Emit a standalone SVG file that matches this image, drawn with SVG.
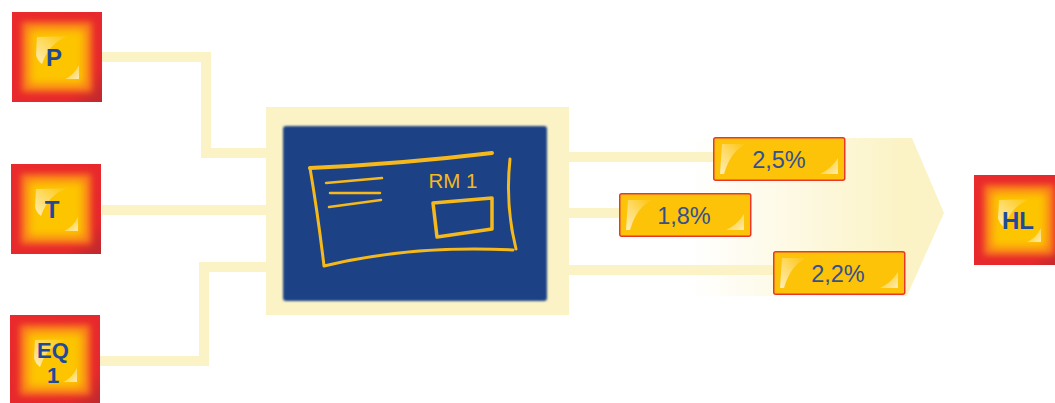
<svg xmlns="http://www.w3.org/2000/svg" xmlns:xlink="http://www.w3.org/1999/xlink" width="1055" height="403" viewBox="0 0 1055 403">
<style>
.conn{fill:none;stroke:#fbf3c6;stroke-width:10;stroke-linejoin:miter}
.ltr{font-family:"Liberation Sans",Arial,sans-serif;font-weight:bold;font-size:24px;fill:#1f4a9a;text-anchor:middle}
.pct{font-family:"Liberation Sans",Arial,sans-serif;font-size:23.5px;fill:#34508f;text-anchor:middle}
.chalk{fill:none;stroke:#f5b91c;stroke-linecap:round;stroke-linejoin:round}
</style>
<defs>
<linearGradient id="arrowG" gradientUnits="userSpaceOnUse" x1="690" y1="0" x2="900" y2="0">
<stop offset="0" stop-color="#fbf3c6" stop-opacity="0"/><stop offset="1" stop-color="#fbf3c6"/>
</linearGradient>
<linearGradient id="redG" x1="0" y1="0" x2="1" y2="1">
<stop offset="0" stop-color="#ea2a2c"/><stop offset=".8" stop-color="#e6282c"/><stop offset="1" stop-color="#b92a2e"/>
</linearGradient>
<linearGradient id="hiA" x1="0" y1="1" x2="1" y2="0">
<stop offset="0" stop-color="#fff6d8" stop-opacity=".85"/><stop offset=".45" stop-color="#fff0c0" stop-opacity=".55"/><stop offset="1" stop-color="#fff0c0" stop-opacity="0"/>
</linearGradient>
<linearGradient id="hiB" x1="1" y1="1" x2="0" y2="0">
<stop offset="0" stop-color="#fff3cf" stop-opacity=".85"/><stop offset="1" stop-color="#fff3cf" stop-opacity="0"/>
</linearGradient>
<filter id="b3" x="-30%" y="-30%" width="160%" height="160%"><feGaussianBlur stdDeviation="3"/></filter>
<filter id="b5" x="-30%" y="-30%" width="160%" height="160%"><feGaussianBlur stdDeviation="4"/></filter>
<filter id="b1" x="-5%" y="-5%" width="110%" height="110%"><feGaussianBlur stdDeviation="1.3"/></filter>
<filter id="bh" x="-20%" y="-20%" width="140%" height="140%"><feGaussianBlur stdDeviation=".7"/></filter>
<g id="sq">
<rect width="90" height="90" fill="url(#redG)"/>
<rect x="10" y="10" width="70" height="70" fill="#f9781a" filter="url(#b3)"/>
<rect x="17" y="17" width="56" height="56" fill="#fdc400" filter="url(#b5)"/>
<path d="M25 25L58 24Q38 29 30 52Q25 48 24 43Z" fill="url(#hiA)" filter="url(#bh)"/>
<path d="M67 53L67 67L53 67Q62 63 67 53Z" fill="url(#hiB)" filter="url(#bh)"/>
</g>
<g id="lab">
<rect x=".75" y=".75" width="131" height="42.5" rx="2" fill="#fdc308" stroke="#e8382a" stroke-width="1.5"/>
<path d="M9 7L34 7Q18 13 11 37L7 37Z" fill="url(#hiA)" filter="url(#bh)"/>
<path d="M125 21L125 37L107 37Q118 32 125 21Z" fill="url(#hiB)" filter="url(#bh)"/>
</g>
</defs>
<rect width="1055" height="403" fill="#ffffff"/>
<path id="arrow" d="M690 138L912 138L944 213L907 296L690 296Z" fill="url(#arrowG)"/>
<g id="connectors">
<path class="conn" d="M102 57H206V153H266"/>
<path class="conn" d="M102 210H266"/>
<path class="conn" d="M100 361H204V267H266"/>
<path class="conn" d="M568 157H714"/>
<path class="conn" d="M568 213H620"/>
<path class="conn" d="M568 270H774"/>
</g>
<g id="node-rm1">
<rect x="266" y="107" width="303" height="208" fill="#fbf3c6"/>
<rect x="283" y="126" width="264" height="175" rx="3" fill="#1c4285" filter="url(#b1)"/>
<path class="chalk" stroke-width="4" d="M310 168Q400 164 492 153"/>
<path class="chalk" stroke-width="3" d="M310 168Q318 215 324 266Q410 245 513 250M510 159Q505 205 516 249"/>
<path class="chalk" stroke-width="2.5" d="M326 183L382 178M330 193L380 193M329 207L381 200"/>
<path class="chalk" stroke-width="3.5" d="M433 203L492 198L492 229L437 237Z"/>
<text x="453" y="188" font-family="'Liberation Sans',Arial,sans-serif" font-size="20.5" fill="#f5b91c" text-anchor="middle">RM 1</text>
</g>
<g id="node-p"><use xlink:href="#sq" href="#sq" x="12" y="12"/><text class="ltr" x="54" y="66">P</text></g>
<g id="node-t"><use xlink:href="#sq" href="#sq" x="11" y="164"/><text class="ltr" x="52" y="218">T</text></g>
<g id="node-eq1"><use xlink:href="#sq" href="#sq" x="10" y="315"/><text class="ltr" style="font-size:22px" x="53" y="358">EQ</text><text class="ltr" style="font-size:22px" x="53" y="383">1</text></g>
<g id="node-hl"><use xlink:href="#sq" href="#sq" x="974" y="175"/><text class="ltr" x="1018" y="229">HL</text></g>
<g id="label-25"><use xlink:href="#lab" href="#lab" x="713" y="137"/><text class="pct" x="779" y="168">2,5%</text></g>
<g id="label-18"><use xlink:href="#lab" href="#lab" x="619" y="193"/><text class="pct" x="684" y="224">1,8%</text></g>
<g id="label-22"><use xlink:href="#lab" href="#lab" x="773" y="251"/><text class="pct" x="838" y="282">2,2%</text></g>
</svg>
